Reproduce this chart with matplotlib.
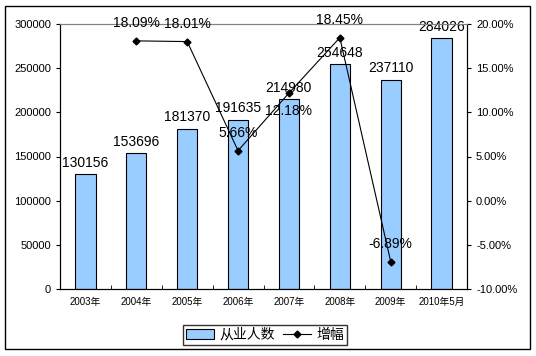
import matplotlib
matplotlib.use("Agg")
import matplotlib.pyplot as plt
from matplotlib.patches import Rectangle

plt.rcParams['font.family'] = ['Liberation Sans', 'Noto Sans CJK SC', 'DejaVu Sans']

# data
years = ['2003年', '2004年', '2005年', '2006年', '2007年', '2008年', '2009年', '2010年5月']
workers = [130156, 153696, 181370, 191635, 214980, 254648, 237110, 284026]
growth_years = [1, 2, 3, 4, 5, 6]   # index into years
growth = [18.09, 18.01, 5.66, 12.18, 18.45, -6.89]
growth_below = [False, False, False, True, False, False]

fig = plt.figure(figsize=(5.36, 3.56), dpi=100)
fig.patches.append(Rectangle((5/536, 7/356), 525/536, 343/356, transform=fig.transFigure,
                             fill=False, edgecolor='black', linewidth=1.0))

ax1 = fig.add_axes([60/536, 67/356, 407/536, 265/356])
x = list(range(len(years)))
ax1.bar(x, workers, width=0.4, color='#99ccff', edgecolor='black', linewidth=0.8,
        label='从业人数', zorder=2)
for xi, v in zip(x, workers):
    ax1.text(xi, v + 5000, str(v), ha='center', va='bottom', fontsize=10, zorder=5)
ax1.set_ylim(0, 300000)
ax1.set_xlim(-0.5, len(years) - 0.5)
ax1.set_yticks(range(0, 300001, 50000))
ax1.set_xticks(x)
ax1.set_xticklabels(years, fontsize=7)
ax1.tick_params(axis='y', labelsize=8, length=3, direction='out')
ax1.tick_params(axis='x', length=0, pad=6)
# category boundary ticks
ax1.set_xticks([i - 0.5 for i in range(1, len(years))], minor=True)
ax1.tick_params(axis='x', which='minor', length=3, direction='in')
ax1.spines['top'].set_color('#808080')

ax2 = ax1.twinx()
ax2.plot(growth_years, growth, color='black', linewidth=0.8, marker='D', markersize=3.5,
         label='增幅', zorder=4)
for gx, g, below in zip(growth_years, growth, growth_below):
    if below:
        ax2.text(gx, g - 1.2, '%.2f%%' % g, ha='center', va='top', fontsize=10)
    else:
        ax2.text(gx, g + 1.2, '%.2f%%' % g, ha='center', va='bottom', fontsize=10)
ax2.set_ylim(-10, 20)
ax2.set_yticks(range(-10, 21, 5))
ax2.set_yticklabels(['%.2f%%' % t for t in range(-10, 21, 5)])
ax2.tick_params(axis='y', labelsize=8, length=3, direction='out')
ax2.spines['top'].set_color('#808080')

h1, l1 = ax1.get_legend_handles_labels()
h2, l2 = ax2.get_legend_handles_labels()
fig.legend(h1 + h2, l1 + l2, loc='center', bbox_to_anchor=(265/536, 21/356), ncol=2,
           fontsize=10, frameon=True, fancybox=False, edgecolor='black',
           handlelength=2.0, handletextpad=0.4, columnspacing=0.6, borderpad=0.2)

fig.savefig('out.png', dpi=100)
